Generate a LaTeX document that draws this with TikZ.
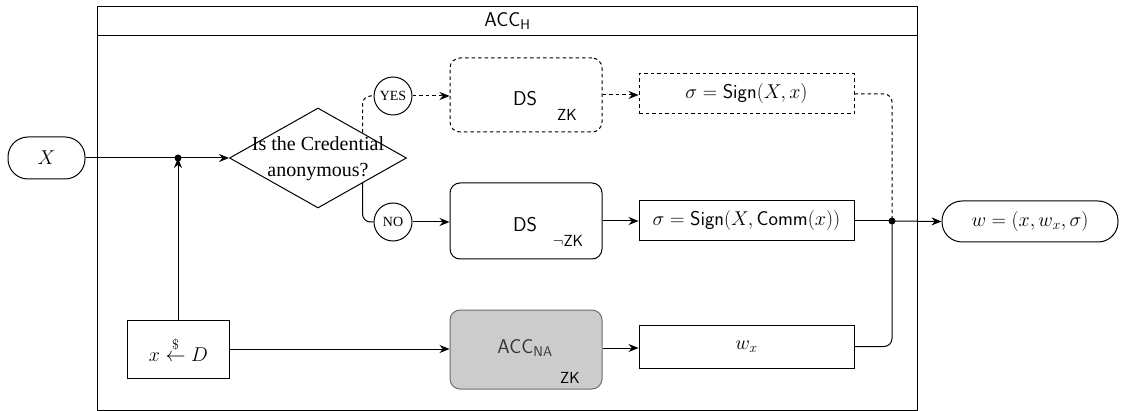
\RequirePackage{fix-cm}
\documentclass[tikz,border=0pt]{standalone}
\usepackage{amsmath}
\usepackage{fontspec}
\newfontfamily\timesfont{Liberation Serif}
\usetikzlibrary{shapes.geometric,arrows.meta,calc}
\definecolor{grayfill}{RGB}{204,204,204}
\definecolor{grayline}{RGB}{110,110,110}
\definecolor{graytext}{RGB}{51,51,51}
\begin{document}
\begin{tikzpicture}[x=1pt,y=-1pt,
  font=\fontsize{20}{24}\selectfont,
  ln/.style={line width=1pt},
  dsh/.style={dash pattern=on 3.5pt off 3pt},
  arr/.style={ln,-{Stealth[length=10pt,width=8pt]}},
  box/.style={draw,ln,minimum width=215pt,inner sep=0pt},
  dsbox/.style={draw,ln,rounded corners=10pt,minimum width=152pt,inner sep=0pt},
  term/.style={draw,ln,rounded corners=20pt,inner sep=0pt},
  yn/.style={circle,draw,ln,minimum size=38pt,inner sep=0pt,font=\timesfont\fontsize{14}{16}\selectfont},
  subzk/.style={font=\sffamily\fontsize{16}{18}\selectfont},
  jdot/.style={fill=black}]
\useasboundingbox (0,0) rectangle (1123,411);
% frame
\node[draw,ln,minimum width=820pt,minimum height=29pt,anchor=north west,inner sep=0pt] (title) at (97,6.5) {\textsf{ACC}$_{\mathsf{H}}$};
\node[draw,ln,minimum width=820pt,minimum height=374pt,anchor=north west,inner sep=0pt] (frame) at (97,35.5) {};
% nodes
\node[term,minimum width=77pt,minimum height=42pt] (X) at (46.5,158) {$X$};
\coordinate (j1) at (178,158);
\node[diamond,draw,ln,minimum width=177pt,minimum height=100pt,inner sep=0pt,aspect=1.77] (dia) at (318,158) {};
\node[font=\timesfont\fontsize{20}{26}\selectfont,align=center,inner sep=0pt] (diat) at (318,159) {Is the Credential\\anonymous?};
\node[yn] (yes) at (393,96) {YES};
\node[yn] (no) at (393,222) {NO};
\coordinate (dyes) at ($(dia.north)!0.5!(dia.east)$);
\coordinate (dno) at ($(dia.south)!0.5!(dia.east)$);
\node[dsbox,dsh,minimum height=74pt] (dszk) at (526,95) {};
\node (dszkt) at ($(dszk.center)+(-1,3.5)$) {\sffamily DS};
\node[subzk] (dszks) at ($(dszk.center)+(41,19.5)$) {ZK};
\node[dsbox,minimum height=76pt] (dsnzk) at (526,221) {};
\node (dsnzkt) at ($(dsnzk.center)+(-1,3.5)$) {\sffamily DS};
\node[subzk] (dsnzks) at ($(dsnzk.center)+(42,19.5)$) {$\neg$ZK};
\node[box,dsh,minimum height=40pt] (s1) at (746.5,94) {$\sigma = \mathsf{Sign}(X,x)$};
\node[box,minimum height=40pt] (s2) at (746.5,221) {$\sigma = \mathsf{Sign}(X,\mathsf{Comm}(x))$};
\node[box,minimum height=43pt] (wx) at (746.5,346.5) {$w_x$};
\coordinate (j2) at (892,221);
\node[term,minimum width=176pt,minimum height=41pt] (w) at (1030,221.5) {$w=(x,w_x,\sigma)$};
\node[draw,ln,minimum width=102pt,minimum height=58pt,inner sep=0pt] (xd) at (178.5,349) {$x \overset{\$}{\leftarrow} D$};
\node[dsbox,fill=grayfill,draw=grayline,minimum height=79pt] (acc) at (526,349.5) {};
\node[text=graytext] (acct) at ($(acc.center)+(-1,-1)$) {\textsf{ACC}$_{\mathsf{NA}}$};
\node[subzk] (accs) at ($(acc.center)+(44,28.5)$) {ZK};
% connectors
\draw[ln] (X.east) -- (j1);
\draw[arr] (j1) -- (dia.west);
\draw[arr] (xd.north -| j1) -- (j1);
\draw[ln,dsh,rounded corners=8pt] (dyes) |- (yes.west);
\draw[ln,rounded corners=8pt] (dno) |- (no.west);
\draw[arr,dsh] (yes.east) -- (yes.east -| dszk.west);
\draw[arr] (no.east) -- (no.east -| dsnzk.west);
\draw[arr,dsh] (dszk.east) -- (dszk.east -| s1.west);
\draw[arr] (dsnzk.east) -- (s2.west);
\draw[ln,dsh,rounded corners=8pt] (s1.east) -| (j2);
\draw[ln] (s2.east) -- (j2);
\draw[arr] (j2) -- (w.west);
\draw[ln,rounded corners=8pt] (wx.east) -| (j2);
\draw[arr] (xd.east) -- (xd.east -| acc.west);
\draw[arr] (acc.east |- 0,348) -- (wx.west |- 0,348);
\fill[jdot] (j1) circle (3.5pt);
\fill[jdot] (j2) circle (3.5pt);
\end{tikzpicture}
\end{document}
